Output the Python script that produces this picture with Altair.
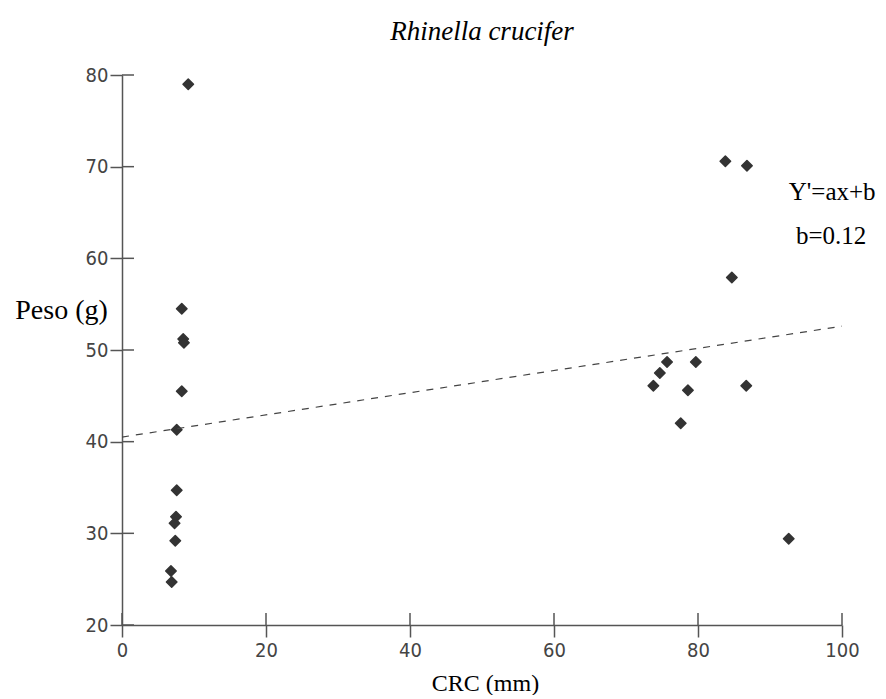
import altair as alt
import pandas as pd

# ---- data ----
crc = [9.2, 8.3, 8.5, 8.6, 8.3, 7.6, 7.6, 7.5, 7.3, 7.4, 6.8, 6.9,
       75.7, 74.7, 73.8, 79.7, 78.6, 77.6, 86.7, 83.8, 86.8, 84.7, 92.6]
peso = [79.0, 54.5, 51.2, 50.8, 45.5, 41.3, 34.7, 31.8, 31.1, 29.2, 25.9, 24.7,
        48.7, 47.5, 46.1, 48.7, 45.6, 42.0, 46.1, 70.6, 70.1, 57.9, 29.4]
fit_x = [0, 100]
fit_y = [40.5, 52.6]
x_ticks = [0, 20, 40, 60, 80, 100]
y_ticks = [20, 30, 40, 50, 60, 70, 80]
note_text = ["Y'=ax+b", "b=0.12"]
note_x = [92.6, 93.6]
note_y = [67.2, 62.4]

# ---- styling ----
W, H = 720, 550
axis_color = "#555555"
label_font = "Liberation Sans Narrow, DejaVu Sans Condensed, Liberation Sans, Arial, sans-serif"
serif = "Liberation Serif, Times New Roman, serif"
TICK = 12

xs = alt.Scale(domain=[0, 100], nice=False, zero=False)
ys = alt.Scale(domain=[20, 80], nice=False, zero=False)

pts = pd.DataFrame({"x": crc, "y": peso})
fit = pd.DataFrame({"x": fit_x, "y": fit_y})
xt = pd.DataFrame({"x": x_ticks})
yt = pd.DataFrame({"y": y_ticks})
notes = pd.DataFrame({"text": note_text, "x": note_x, "y": note_y})

common_axis = dict(
    grid=False, domainColor=axis_color, domainWidth=1.5,
    tickColor=axis_color, tickWidth=1.5, tickSize=TICK,
    labelFont=label_font, labelFontSize=20, labelColor="#444444",
    labelFlush=False, labelOverlap=False,
    titleFont=serif, titleFontWeight="normal", titleColor="black",
)

X = alt.X("x:Q", scale=xs, title="CRC (mm)", axis=alt.Axis(
    values=x_ticks, titleFontSize=24,
    titleX=363, titleY=58, titleBaseline="middle", titleAlign="center",
    labelPadding=3, **common_axis))
Y = alt.Y("y:Q", scale=ys, title="Peso (g)", axis=alt.Axis(
    values=y_ticks, titleFontSize=28, titleAngle=0,
    titleX=-61, titleY=235, titleBaseline="middle", titleAlign="center",
    labelPadding=2, **common_axis))

points = alt.Chart(pts).mark_point(
    shape="diamond", filled=True, color="#333333", size=110,
    stroke="#333333", strokeWidth=1.5, strokeJoin="round", opacity=1,
).encode(x=X, y=Y)

fit_line = alt.Chart(fit).mark_line(
    color="#444444", strokeWidth=1.2, strokeDash=[7, 7]
).encode(x=X, y=Y)

x_inner = alt.Chart(xt).mark_rule(color=axis_color, strokeWidth=1.5).encode(
    x=X, y=alt.value(H - TICK), y2=alt.value(H),
)
y_inner = alt.Chart(yt).mark_rule(color=axis_color, strokeWidth=1.5).encode(
    y=Y, x=alt.value(0), x2=alt.value(TICK),
)

note_marks = alt.Chart(notes).mark_text(
    align="left", baseline="middle", font=serif, fontSize=25, color="black"
).encode(x=X, y=Y, text="text:N")

chart = alt.layer(points, fit_line, x_inner, y_inner, note_marks).properties(
    width=W, height=H,
    title=alt.TitleParams("Rhinella crucifer", font=serif, fontStyle="italic",
                          fontSize=27, fontWeight="normal", color="black",
                          anchor="middle", offset=19),
    autosize=alt.AutoSizeParams(type="none"),
    padding={"left": 114, "top": 67, "right": 36, "bottom": 70},
).configure_view(stroke=None)

chart.save("out.html", embed_options={"renderer": "svg", "actions": False})
